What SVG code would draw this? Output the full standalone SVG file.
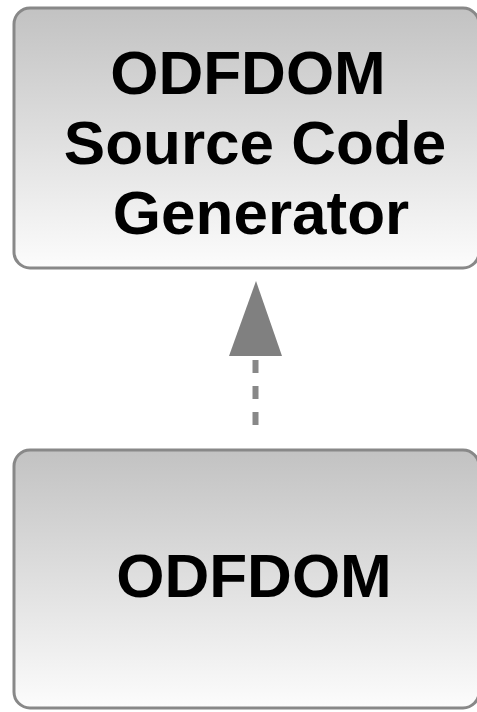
<svg xmlns="http://www.w3.org/2000/svg" width="477" height="712" viewBox="0 0 477 712">
<style>
.box{stroke:#888;stroke-width:3;fill:url(#g)}
.lbl{font-family:"Liberation Sans",Arial,sans-serif;font-weight:bold;font-size:62px;fill:#000;text-anchor:middle}
.dash{stroke:#888;stroke-width:6;stroke-dasharray:13 13;fill:none}
</style>
<defs>
<linearGradient id="g" x1="0" y1="0" x2="0" y2="1">
<stop offset="0" stop-color="#c2c2c2"/>
<stop offset="1" stop-color="#fcfcfc"/>
</linearGradient>
</defs>
<rect width="477" height="712" fill="#fff"/>
<g id="generator">
<rect class="box" x="14" y="8" width="465" height="260" rx="16"/>
<text class="lbl" x="248" y="94">ODFDOM</text>
<text class="lbl" x="255" y="164">Source Code</text>
<text class="lbl" x="261" y="234">Generator</text>
</g>
<g id="odfdom">
<rect class="box" x="14" y="450" width="465" height="258" rx="16"/>
<text class="lbl" x="254" y="597">ODFDOM</text>
</g>
<g id="connectors">
<line class="dash" x1="255.5" y1="360" x2="255.5" y2="426"/>
<polygon points="256,281 229,356 282,356" fill="#808080"/>
</g>
</svg>
